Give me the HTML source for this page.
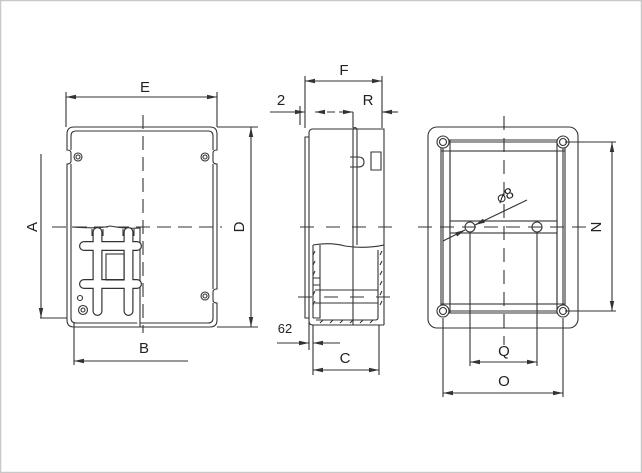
<!DOCTYPE html>
<html><head><meta charset="utf-8"><style>
html,body{margin:0;padding:0;background:#fff}
svg{display:block}
text{font-family:"Liberation Sans",sans-serif;font-size:15px;fill:#222}
</style></head><body>
<svg width="642" height="473" viewBox="0 0 642 473" xmlns="http://www.w3.org/2000/svg">
<defs>
<marker id="ar" markerWidth="10" markerHeight="6" refX="10" refY="3" orient="auto-start-reverse" markerUnits="userSpaceOnUse">
<path d="M0,0.8 L10,3 L0,5.2 Z" fill="#333"/></marker>
</defs>
<rect x="0.5" y="0.5" width="641" height="472" fill="#fff" stroke="#c8c8c8" stroke-width="1.5"/>
<g stroke="#333" stroke-width="1.1" fill="none">
<!-- LEFT VIEW -->
<path d="M67,150 V134 Q67,127 74,127 H210 Q217,127 217,134 V150 Q213,150 213,153 V161 Q213,164 217,164 V289 Q213,289 213,292 V300 Q213,303 217,303 V320 Q217,327 210,327 H74 Q67,327 67,320 V164 Q71,164 71,161 V153 Q71,150 67,150 Z"/>
<path d="M71,150 V136 Q71,131 76,131 H208 Q213,131 213,136 V150 M213,164 V289 M213,303 V318 Q213,323 208,323 H76 Q71,323 71,318 V227 M71,164 V227"/>
<path d="M72,227 Q100,229 110,226 Q125,229 140,228 V327" fill="#fff"/>
<!-- din rail double-line trick -->
<g stroke-linecap="round" fill="none">
<path d="M97.5,232 V311 M128.5,232 V311 M84,246 H137 M84,284 H137" stroke="#333" stroke-width="10"/>
<path d="M97.5,232 V311 M128.5,232 V311 M84,246 H137 M84,284 H137" stroke="#fff" stroke-width="7.6"/>
</g>
<path d="M92,229 V236 M103,229 V236 M123,229 V236 M134,229 V236"/>
<rect x="106" y="254" width="18" height="26"/>
<circle cx="78" cy="157" r="4"/><circle cx="78" cy="157" r="2"/>
<circle cx="205" cy="157" r="4"/><circle cx="205" cy="157" r="2"/>
<circle cx="205" cy="296" r="4"/><circle cx="205" cy="296" r="2"/>
<circle cx="83" cy="310" r="4.5"/><circle cx="83" cy="310" r="2"/>
<circle cx="80" cy="298" r="2.5"/>
<!-- centerlines -->
<path d="M143,115 V333 M52,227 H222" stroke-dasharray="14,7"/>
<!-- dims -->
<path d="M66,92 V127 M217,92 V127 M217,127 H258 M217,327 H258 M40,318 H67 M74,323 V365"/>
<line x1="66" y1="97" x2="217" y2="97" marker-start="url(#ar)" marker-end="url(#ar)"/>
<line x1="251" y1="127" x2="251" y2="327" marker-start="url(#ar)" marker-end="url(#ar)"/>
<line x1="41" y1="154" x2="41" y2="318" marker-end="url(#ar)"/>
<line x1="188" y1="361" x2="74" y2="361" marker-end="url(#ar)"/>
<!-- SIDE VIEW -->
<path d="M313,129 H384 V325 M313,129 Q309,129 309,133 V321 Q309,325 313,325 H384 M309,137 H305 V318 H309"/>
<path d="M353,129 V245 M357,129 V245 M353,129 Q355,126 357,129"/>
<path d="M350,157 H358 Q364,157 364,162 Q364,167 358,167 H350 M371,152 H381 V170 H371 Z"/>
<path d="M313,245 Q330,242 345,246 Q365,249 384,245 M353,245 V325"/>
<path d="M313,245 V318 M320,245 V318 H313 M378,250 V318 Q378,320 375,320 H316 M315,290 H378 M315,303 H378 M313,278 H320 M313,285 H320"/>
<path d="M313,255 l2,-4 M313,265 l2,-4 M313,275 l2,-4 M313,295 l2,-4 M313,305 l2,-4 M380,255 l2,-4 M380,265 l2,-4 M380,275 l2,-4 M380,285 l2,-4 M380,295 l2,-4 M380,305 l2,-4 M320,323 l3,-3 M330,323 l3,-3 M340,323 l3,-3 M350,323 l3,-3 M360,323 l3,-3 M370,323 l3,-3"/>
<path d="M300,227 H396 M298,297 H396" stroke-dasharray="14,12"/>
<path d="M305,76 V128 M382,76 V128 M353,112 V128 M309,322 V350 M313,325 V375 M379,325 V375 M300,106 V125"/>
<line x1="305" y1="81" x2="382" y2="81" marker-start="url(#ar)" marker-end="url(#ar)"/>
<line x1="270" y1="112" x2="305" y2="112" marker-end="url(#ar)"/>
<line x1="315" y1="112" x2="353" y2="112" marker-start="url(#ar)" marker-end="url(#ar)" stroke-dasharray="8,4"/>
<line x1="398" y1="112" x2="382" y2="112" marker-end="url(#ar)"/>
<line x1="277" y1="343" x2="309" y2="343" marker-end="url(#ar)"/>
<line x1="340" y1="343" x2="313" y2="343" marker-end="url(#ar)"/>
<line x1="313" y1="370" x2="379" y2="370" marker-start="url(#ar)" marker-end="url(#ar)"/>
<!-- RIGHT VIEW -->
<rect x="428" y="127" width="150" height="201" rx="9"/>
<rect x="441" y="140" width="124" height="173" rx="3"/>
<rect x="450" y="151" width="107" height="153"/>
<path d="M441,142 H565 M441,151 H565 M441,304 H565 M441,311 H565 M443,140 V313 M450,140 V313 M557,140 V313 M563,140 V313"/>
<rect x="450" y="221" width="107" height="12" fill="#fff"/>
<circle cx="443" cy="142" r="6" fill="#fff"/><circle cx="443" cy="142" r="3.5"/>
<circle cx="563" cy="142" r="6" fill="#fff"/><circle cx="563" cy="142" r="3.5"/>
<circle cx="443" cy="311" r="6" fill="#fff"/><circle cx="443" cy="311" r="3.5"/>
<circle cx="563" cy="311" r="6" fill="#fff"/><circle cx="563" cy="311" r="3.5"/>
<circle cx="470" cy="227" r="5" fill="#fff"/><circle cx="537" cy="227" r="5" fill="#fff"/>
<path d="M504,116 V345 M418,227 H590" stroke-dasharray="14,8"/>
<path d="M565,142 H616 M565,311 H616 M470,233 V366 M537,233 V366 M443,318 V397 M563,318 V397"/>
<line x1="612" y1="142" x2="612" y2="311" marker-start="url(#ar)" marker-end="url(#ar)"/>
<line x1="470" y1="362" x2="537" y2="362" marker-start="url(#ar)" marker-end="url(#ar)"/>
<line x1="443" y1="393" x2="563" y2="393" marker-start="url(#ar)" marker-end="url(#ar)"/>
<line x1="443" y1="241" x2="465" y2="230" marker-end="url(#ar)"/>
<line x1="527" y1="200" x2="475" y2="225" marker-end="url(#ar)"/>
</g>
<text x="145" y="92" text-anchor="middle">E</text>
<text x="144" y="353" text-anchor="middle">B</text>
<text transform="translate(37,227) rotate(-90)" text-anchor="middle">A</text>
<text transform="translate(244,227) rotate(-90)" text-anchor="middle">D</text>
<text x="344" y="75" text-anchor="middle">F</text>
<text x="281" y="105" text-anchor="middle">2</text>
<text x="368" y="105" text-anchor="middle">R</text>
<text x="285" y="333" text-anchor="middle" style="font-size:13px">62</text>
<text x="345" y="363" text-anchor="middle">C</text>
<text x="504" y="356" text-anchor="middle">Q</text>
<text x="504" y="386" text-anchor="middle">O</text>
<text transform="translate(591,227) rotate(90)" text-anchor="middle">N</text>
<text transform="translate(507,200) rotate(-25)" text-anchor="middle">⌀8</text>
</svg>
</body></html>
